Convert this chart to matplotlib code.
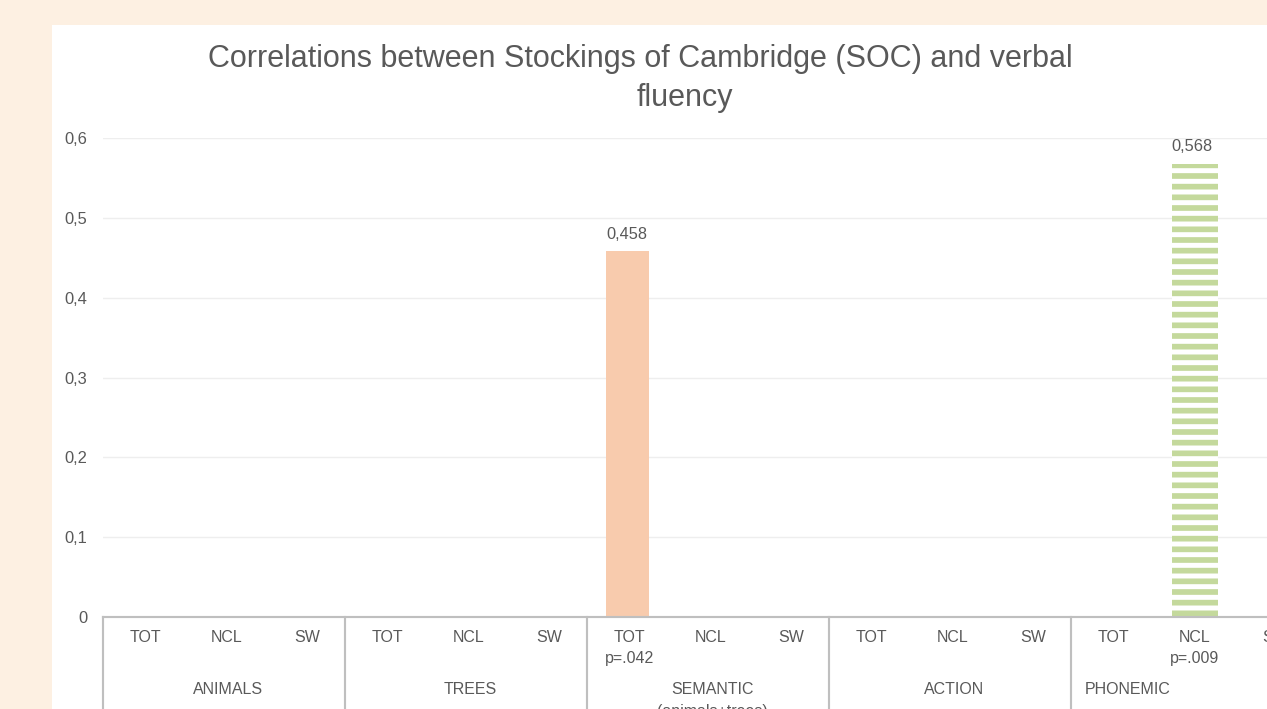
import numpy as np
import matplotlib.pyplot as plt
from matplotlib.patches import Rectangle

# DATA
groups = ['ANIMALS', 'TREES', 'SEMANTIC\n(animals+trees)', 'ACTION', 'PHONEMIC']
measures = ['TOT', 'NCL', 'SW']
values = [np.nan, np.nan, np.nan,
          np.nan, np.nan, np.nan,
          0.458, np.nan, np.nan,
          np.nan, np.nan, np.nan,
          np.nan, 0.568, np.nan]
p_labels = ['', '', '', '', '', '', 'p=.042', '', '', '', '', '', '', 'p=.009', '']
yticks = [0, 0.1, 0.2, 0.3, 0.4, 0.5, 0.6]

W, H, DPI = 1267, 709, 128
TXT = '#595959'
AXC = '#BFBFBF'
plt.rcParams['font.family'] = ['Liberation Sans', 'DejaVu Sans']
plt.rcParams['hatch.linewidth'] = 3.2


def fx(px):
    return px / W


def fy(py):
    return 1 - py / H


fig = plt.figure(figsize=(W / DPI, H / DPI), dpi=DPI)
fig.patch.set_facecolor('#FDF0E2')
# white chart area (runs off the right / bottom edges)
fig.patches.append(Rectangle((fx(52), 0), 1, fy(25), transform=fig.transFigure,
                             facecolor='white', edgecolor='none', zorder=-5))

n = len(values)
slot = 242 / 3
ax = fig.add_axes([fx(103), fy(617), n * slot / W, (617 - 138) / H])
ax.set_facecolor('none')
x = np.arange(n)
ax.set_xlim(-0.5, n - 0.5)
ax.set_ylim(0, 0.6)

# bars
ax.bar(x[6], values[6], width=0.54, color='#F8CBAD', zorder=3)
ax.bar(x[13] + 0.04, values[13], width=0.57, facecolor='white', edgecolor='#C4D99C',
       hatch='--', linewidth=0, zorder=3)

for xi, v in zip(x, values):
    if not np.isnan(v):
        ax.annotate(f'{v:.3f}'.replace('.', ','), (xi, v), xytext=(0, 9.5),
                    textcoords='offset points', ha='center', va='center',
                    fontsize=9.2, color=TXT)

# y axis
ax.set_yticks(yticks)
ax.set_yticklabels([('%g' % t).replace('.', ',') for t in yticks], fontsize=9.3, color=TXT)
ax.tick_params(axis='y', length=0, pad=9)
ax.set_xticks([])
ax.grid(axis='y', color='#EEEEEE', linewidth=0.8, zorder=0)
for s in ['top', 'right', 'left']:
    ax.spines[s].set_visible(False)
ax.spines['bottom'].set_color(AXC)
ax.spines['bottom'].set_linewidth(1.2)
ax.spines['bottom'].set_zorder(4)

# multi-level category axis
tr = ax.get_xaxis_transform()
ph = 617 - 138


def ay(py):
    return (617 - py) / ph


for g in range(len(groups) + 1):
    ax.plot([g * 3 - 0.5, g * 3 - 0.5], [0, ay(760)], transform=tr, color=AXC,
            linewidth=1.2, clip_on=False)
for i in range(n):
    ax.text(x[i] + 0.03, ay(638), measures[i % 3], transform=tr, ha='center', va='center',
            fontsize=9, color=TXT)
    if p_labels[i]:
        ax.text(x[i] + 0.03, ay(659), p_labels[i], transform=tr, ha='center', va='center',
                fontsize=9, color=TXT)
for g, name in enumerate(groups):
    if name == 'PHONEMIC':
        ax.text(g * 3 - 0.5 + 14 / slot, ay(690), name, transform=tr, ha='left',
                va='center', fontsize=9, color=TXT)
    else:
        ax.text(g * 3 + 1.05, ay(682), name, transform=tr, ha='center', va='top',
                fontsize=9, color=TXT, linespacing=1.55)

# title
fig.text(fx(640), fy(59), 'Correlations between Stockings of Cambridge (SOC) and verbal',
         ha='center', va='center', fontsize=17.2, color=TXT)
fig.text(fx(685), fy(98), 'fluency', ha='center', va='center', fontsize=17.2, color=TXT)

fig.savefig('out.png', dpi=DPI)
